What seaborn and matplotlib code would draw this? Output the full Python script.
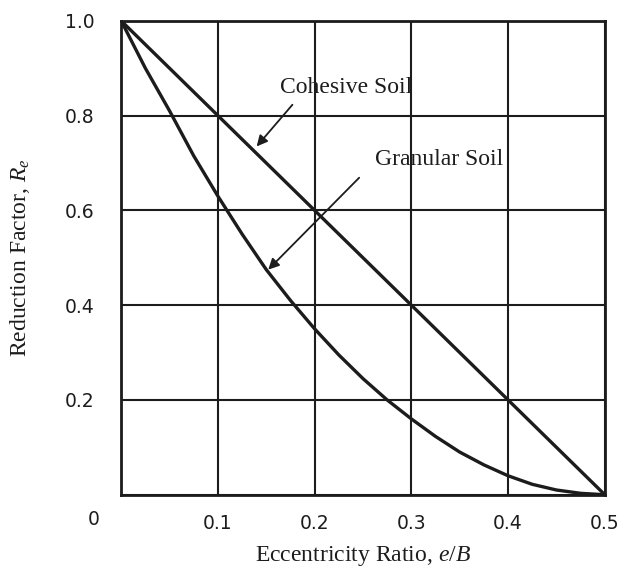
import matplotlib
matplotlib.use("Agg")
import matplotlib.pyplot as plt
import seaborn as sns
import pandas as pd

# Data
cohesive_e = [0.0, 0.1, 0.2, 0.3, 0.4, 0.5]
cohesive_r = [1.0, 0.8, 0.6, 0.4, 0.2, 0.0]

granular_e = [0.0, 0.025, 0.05, 0.075, 0.1, 0.125, 0.15, 0.175, 0.2, 0.225,
              0.25, 0.275, 0.3, 0.325, 0.35, 0.375, 0.4, 0.425, 0.45, 0.475, 0.5]
granular_r = [1.0, 0.90, 0.81, 0.715, 0.63, 0.55, 0.475, 0.41, 0.35, 0.295,
              0.245, 0.20, 0.16, 0.123, 0.09, 0.063, 0.04, 0.022, 0.01, 0.003, 0.0]

x_ticks = [0.1, 0.2, 0.3, 0.4, 0.5]
x_tick_labels = ["0.1", "0.2", "0.3", "0.4", "0.5"]
y_ticks = [0.2, 0.4, 0.6, 0.8, 1.0]
y_tick_labels = ["0.2", "0.4", "0.6", "0.8", "1.0"]

sns.set_style("white")
plt.rcParams["font.family"] = ["DejaVu Sans"]
plt.rcParams["mathtext.fontset"] = "custom"
plt.rcParams["mathtext.it"] = "Liberation Serif:italic"
plt.rcParams["mathtext.rm"] = "Liberation Serif"

df = pd.concat([
    pd.DataFrame({"e": cohesive_e, "R": cohesive_r, "soil": "Cohesive Soil"}),
    pd.DataFrame({"e": granular_e, "R": granular_r, "soil": "Granular Soil"}),
])

fig = plt.figure(figsize=(6.38, 5.8), dpi=100)
ax = fig.add_axes([0.19, 0.147, 0.758, 0.817])

ink = "#1c1c1c"
sns.lineplot(data=df, x="e", y="R", hue="soil", palette=[ink, ink],
             linewidth=2.4, legend=False, ax=ax, sort=False)

ax.set_xlim(0, 0.5)
ax.set_ylim(0, 1.0)
ax.set_xticks([0.0] + x_ticks)
ax.set_xticklabels([""] + x_tick_labels, fontsize=13.5, color=ink)
ax.set_yticks([0.0] + y_ticks)
ax.set_yticklabels([""] + y_tick_labels, fontsize=13.5, color=ink)
ax.tick_params(axis="x", length=0, pad=14)
ax.tick_params(axis="y", length=0, pad=19)
ax.grid(True, color=ink, linewidth=1.5)
for s in ax.spines.values():
    s.set_color(ink)
    s.set_linewidth(2.0)

ax.annotate("0", xy=(0, 0), xytext=(-28, -25), textcoords="offset pixels",
            ha="center", va="center", fontsize=13.5, color=ink)

serif = ["Liberation Serif", "DejaVu Serif"]
ax.set_xlabel("Eccentricity Ratio, $e/B$", fontsize=17, family=serif,
              color=ink, labelpad=8)
ax.set_ylabel("Reduction Factor, $R_e$", fontsize=17, family=serif,
              color=ink, labelpad=24)

ax.annotate("", xy=(0.14, 0.735), xytext=(0.177, 0.823),
            arrowprops=dict(arrowstyle="-|>", color=ink, lw=1.3,
                            mutation_scale=16, shrinkA=0, shrinkB=0))
ax.text(0.233, 0.859, "Cohesive Soil", fontsize=17, family=serif,
        ha="center", va="center", color=ink)

ax.annotate("", xy=(0.152, 0.475), xytext=(0.246, 0.669),
            arrowprops=dict(arrowstyle="-|>", color=ink, lw=1.3,
                            mutation_scale=16, shrinkA=0, shrinkB=0))
ax.text(0.329, 0.707, "Granular Soil", fontsize=17, family=serif,
        ha="center", va="center", color=ink)

fig.savefig("out.png", dpi=100, facecolor="white")
